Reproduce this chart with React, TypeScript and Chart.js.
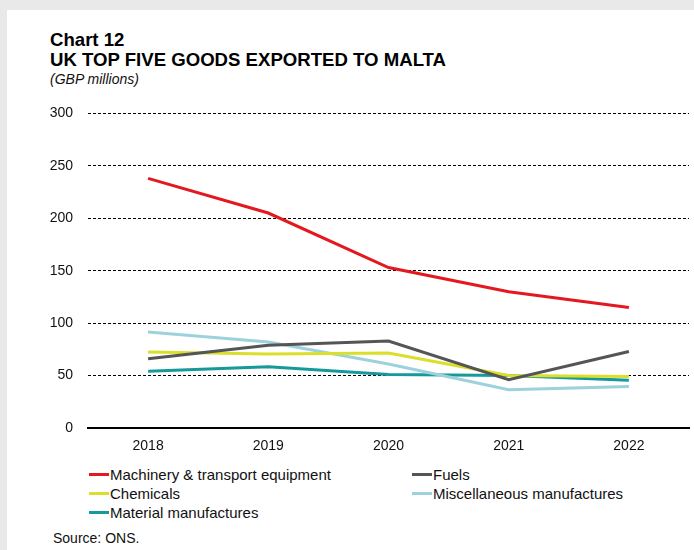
import React, { useEffect, useRef } from "react";
import { Chart, registerables } from "chart.js";

Chart.register(...registerables);

const years = ["2018", "2019", "2020", "2021", "2022"];
const machinery = [238, 205, 153, 130, 115];
const fuels = [66, 79, 83, 46, 73];
const chemicals = [72.5, 70.5, 71.5, 50, 49];
const miscellaneous = [91.5, 82, 61, 36.5, 39.5];
const material = [54, 58.5, 51, 50, 45.5];
const yTicks = [0, 50, 100, 150, 200, 250, 300];

const FONT = "'Liberation Sans', Arial, sans-serif";

const seriesDefs = [
  { label: "Machinery & transport equipment", data: machinery, color: "#e4191f" },
  { label: "Fuels", data: fuels, color: "#555555" },
  { label: "Chemicals", data: chemicals, color: "#dcdf2a" },
  { label: "Miscellaneous manufactures", data: miscellaneous, color: "#9dd2dc" },
  { label: "Material manufactures", data: material, color: "#15999b" },
];

export default function App() {
  const canvasRef = useRef<HTMLCanvasElement | null>(null);

  useEffect(() => {
    if (!canvasRef.current) return;
    const chart = new Chart(canvasRef.current, {
      type: "line",
      data: {
        labels: years,
        datasets: seriesDefs.map((s) => ({
          label: s.label,
          data: s.data,
          borderColor: s.color,
          backgroundColor: s.color,
          borderWidth: 3,
          pointRadius: 0,
          tension: 0,
          fill: false,
        })),
      },
      options: {
        animation: false,
        responsive: false,
        maintainAspectRatio: false,
        layout: { padding: { top: 21, right: 5, left: 0, bottom: 0 } },
        plugins: {
          legend: { display: false },
          title: { display: false },
          tooltip: { enabled: false },
        },
        scales: {
          x: {
            offset: true,
            grid: { display: false, drawTicks: false },
            border: { display: true, color: "#000", width: 2 },
            ticks: {
              color: "#111",
              font: { family: FONT, size: 14 },
              padding: 10,
              maxRotation: 0,
            },
            afterFit: (scale: any) => {
              scale.height = 32;
            },
          },
          y: {
            min: 0,
            max: 300,
            afterBuildTicks: (scale: any) => {
              scale.ticks = yTicks.map((v) => ({ value: v }));
            },
            grid: {
              drawTicks: false,
              lineWidth: 1,
              color: (ctx: any) => (ctx.tick && ctx.tick.value === 0 ? "rgba(0,0,0,0)" : "#000"),
            },
            border: { display: false, dash: [3, 2] },
            ticks: {
              color: "#111",
              font: { family: FONT, size: 14 },
              padding: 15,
            },
            afterFit: (scale: any) => {
              scale.width = 88;
            },
          },
        },
      },
    });
    return () => chart.destroy();
  }, []);

  const legendItem = (s: { label: string; color: string }, left: number, top: number) => (
    <div
      key={s.label}
      style={{
        position: "absolute",
        left,
        top: top - 9,
        height: 18,
        display: "flex",
        alignItems: "center",
        whiteSpace: "nowrap",
      }}
    >
      <span style={{ display: "inline-block", width: 20, height: 3, background: s.color }} />
      <span style={{ marginLeft: 1, fontSize: 15, color: "#111" }}>{s.label}</span>
    </div>
  );

  return (
    <div
      style={{
        position: "fixed",
        left: 0,
        top: 0,
        width: 694,
        height: 550,
        background: "#e9e9e9",
        fontFamily: FONT,
        overflow: "hidden",
      }}
    >
      <div style={{ position: "absolute", left: 7, top: 10, right: 0, bottom: 0, background: "#fff" }} />
      <div style={{ position: "absolute", left: 50, top: 30, fontWeight: "bold", fontSize: 18.6, lineHeight: "20px", color: "#000" }}>
        <div>Chart 12</div>
        <div>UK TOP FIVE GOODS EXPORTED TO MALTA</div>
      </div>
      <div style={{ position: "absolute", left: 50, top: 70, fontStyle: "italic", fontSize: 14, lineHeight: "18px", color: "#111" }}>
        (GBP millions)
      </div>
      <canvas
        ref={canvasRef}
        width={694}
        height={370}
        style={{ position: "absolute", left: 0, top: 90, width: 694, height: 370 }}
      />
      {legendItem(seriesDefs[0], 89, 474)}
      {legendItem(seriesDefs[1], 412, 474)}
      {legendItem(seriesDefs[2], 89, 493)}
      {legendItem(seriesDefs[3], 412, 493)}
      {legendItem(seriesDefs[4], 89, 512)}
      <div style={{ position: "absolute", left: 53, top: 529, fontSize: 14, lineHeight: "18px", color: "#111" }}>
        Source: ONS.
      </div>
    </div>
  );
}
